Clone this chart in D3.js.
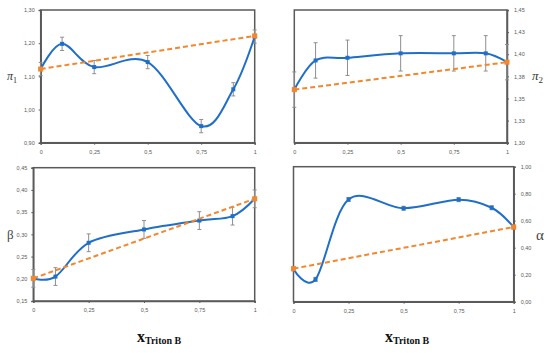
<!DOCTYPE html>
<html><head><meta charset="utf-8">
<script src="https://cdn.jsdelivr.net/npm/d3@7"></script>
<style>body{margin:0;background:#fff}svg{display:block}</style>
</head><body>
<svg id="c" width="550" height="353"></svg>
<script>
// ---- data ----
const xValues = [0, 0.1, 0.25, 0.5, 0.75, 0.9, 1];
const pi1Values = [1.122, 1.198, 1.128, 1.143, 0.950, 1.061, 1.220];
const pi1Err = [0.02, 0.02, 0.02, 0.02, 0.02, 0.02, 0.02];
const pi1Ideal = [1.122, 1.222];
const pi2Values = [1.360, 1.393, 1.396, 1.401, 1.401, 1.401, 1.391];
const pi2Err = [0.02, 0.02, 0.02, 0.02, 0.02, 0.02, 0.02];
const pi2Ideal = [1.360, 1.391];
const betaValues = [0.201, 0.205, 0.281, 0.311, 0.331, 0.341, 0.380];
const betaErr = [0.02, 0.02, 0.02, 0.02, 0.02, 0.02, 0.02];
const betaIdeal = [0.201, 0.380];
const alphaValues = [0.243, 0.165, 0.757, 0.692, 0.756, 0.696, 0.553];
const alphaErr = [0.015, 0.015, 0.015, 0.015, 0.015, 0.015, 0.015];
const alphaIdeal = [0.245, 0.553];
const idealX = [0, 1];
const xTicks = [0, 0.25, 0.5, 0.75, 1];
const xTickLabels = ["0", "0,25", "0,5", "0,75", "1"];
const pi1Ticks = [0.9, 1.0, 1.1, 1.2, 1.3];
const pi1TickLabels = ["0,90", "1,00", "1,10", "1,20", "1,30"];
const pi2Ticks = [1.30, 1.325, 1.35, 1.375, 1.40, 1.425, 1.45];
const pi2TickLabels = ["1,30", "1,33", "1,35", "1,38", "1,40", "1,43", "1,45"];
const betaTicks = [0.15, 0.20, 0.25, 0.30, 0.35, 0.40, 0.45];
const betaTickLabels = ["0,15", "0,20", "0,25", "0,30", "0,35", "0,40", "0,45"];
const alphaTicks = [0, 0.2, 0.4, 0.6, 0.8, 1.0];
const alphaTickLabels = ["0,00", "0,20", "0,40", "0,60", "0,80", "1,00"];

// ---- layout ----
const BLUE = "#1f6fc9", ORANGE = "#f4862c", FRAME = "#5a5a5a", TXT = "#595959";
const panels = [
  {vals: pi1Values, err: pi1Err, ideal: pi1Ideal, ticks: pi1Ticks, labels: pi1TickLabels,
   dom: [0.9, 1.3], L: 40.7, R: 254.7, T: 10, B: 142.7, side: "left", pad: 6},
  {vals: pi2Values, err: pi2Err, ideal: pi2Ideal, ticks: pi2Ticks, labels: pi2TickLabels,
   dom: [1.30, 1.45], L: 294.3, R: 507, T: 10, B: 142.7, side: "right", pad: 7},
  {vals: betaValues, err: betaErr, ideal: betaIdeal, ticks: betaTicks, labels: betaTickLabels,
   dom: [0.15, 0.45], L: 33.3, R: 254.7, T: 167.7, B: 301, side: "left", pad: 6},
  {vals: alphaValues, err: alphaErr, ideal: alphaIdeal, ticks: alphaTicks, labels: alphaTickLabels,
   dom: [0, 1], L: 293.5, R: 513.7, T: 166.7, B: 301.7, side: "right", pad: 7}
];

const svg = d3.select("#c");

panels.forEach(p => {
  const x = d3.scaleLinear().domain([0, 1]).range([p.L, p.R]);
  const y = d3.scaleLinear().domain(p.dom).range([p.B, p.T]);
  const g = svg.append("g");

  // frame
  g.append("rect").attr("x", p.L).attr("y", p.T).attr("width", p.R - p.L).attr("height", p.B - p.T)
    .attr("fill", "none").attr("stroke", FRAME).attr("stroke-width", 1.5);

  // x axis
  const xa = g.append("g").attr("transform", `translate(0,${p.B})`)
    .call(d3.axisBottom(x).tickValues(xTicks).tickSize(2)
      .tickFormat((d, i) => xTickLabels[i]).tickPadding(5));
  // y axis
  const ya = g.append("g").attr("transform", `translate(${p.side === "left" ? p.L : p.R},0)`)
    .call((p.side === "left" ? d3.axisLeft(y) : d3.axisRight(y)).tickValues(p.ticks).tickSize(2)
      .tickFormat((d, i) => p.labels[i]).tickPadding(p.pad - 2));
  [xa, ya].forEach(a => {
    a.select(".domain").attr("stroke", FRAME).attr("stroke-width", 1.5);
    a.selectAll(".tick line").attr("stroke", FRAME);
    a.selectAll(".tick text").attr("fill", TXT).style("font-family", "Liberation Sans, Arial, sans-serif")
      .style("font-size", "5.5px");
  });

  // error bars
  const eb = g.append("g").attr("stroke", "#8f8f8f").attr("stroke-width", 1);
  xValues.forEach((xv, i) => {
    const cx = x(xv), y1 = y(p.vals[i] - p.err[i]), y2 = y(p.vals[i] + p.err[i]);
    eb.append("line").attr("x1", cx).attr("x2", cx).attr("y1", y1).attr("y2", y2);
    eb.append("line").attr("x1", cx - 2).attr("x2", cx + 2).attr("y1", y1).attr("y2", y1);
    eb.append("line").attr("x1", cx - 2).attr("x2", cx + 2).attr("y1", y2).attr("y2", y2);
  });

  // smooth blue curve
  const line = d3.line().x((d, i) => x(xValues[i])).y(d => y(d)).curve(d3.curveCardinal.tension(0));
  g.append("path").datum(p.vals).attr("d", line).attr("fill", "none")
    .attr("stroke", BLUE).attr("stroke-width", 2);
  g.selectAll(".bm").data(p.vals).enter().append("rect").attr("class", "bm")
    .attr("x", (d, i) => x(xValues[i]) - 2).attr("y", d => y(d) - 2)
    .attr("width", 4).attr("height", 4).attr("fill", BLUE);

  // orange dashed ideal line
  const iline = d3.line().x((d, i) => x(idealX[i])).y(d => y(d));
  g.append("path").datum(p.ideal).attr("d", iline).attr("fill", "none")
    .attr("stroke", ORANGE).attr("stroke-width", 2).attr("stroke-dasharray", "5,3");
  g.selectAll(".om").data(p.ideal).enter().append("rect").attr("class", "om")
    .attr("x", (d, i) => x(idealX[i]) - 2.5).attr("y", d => y(d) - 2.5)
    .attr("width", 5).attr("height", 5).attr("fill", ORANGE);
});

// axis titles
const serif = "Liberation Serif, Times New Roman, serif";
const t1 = svg.append("text").attr("x", 7).attr("y", 80).attr("fill", "#333")
  .style("font-family", serif).style("font-style", "italic").style("font-size", "12px");
t1.append("tspan").text("π");
t1.append("tspan").attr("dy", 3).style("font-size", "8px").style("font-style", "normal").text("1");
const t2 = svg.append("text").attr("x", 532).attr("y", 80).attr("fill", "#333")
  .style("font-family", serif).style("font-style", "italic").style("font-size", "13px");
t2.append("tspan").text("π");
t2.append("tspan").attr("dy", 3).style("font-size", "9px").style("font-style", "normal").text("2");
svg.append("text").attr("x", 7).attr("y", 239).attr("fill", "#444")
  .style("font-family", serif).style("font-size", "13px").text("β");
svg.append("text").attr("x", 536).attr("y", 240).attr("fill", "#444")
  .style("font-family", serif).style("font-size", "15px").text("α");

// x-axis titles
[[137, 342], [385, 342]].forEach(([px, py]) => {
  const t = svg.append("text").attr("x", px).attr("y", py).attr("fill", "#111")
    .style("font-family", serif).style("font-weight", "bold").style("font-size", "16px");
  t.append("tspan").text("x");
  t.append("tspan").attr("dy", 2).style("font-size", "10px").text("Triton B");
});
</script>
</body></html>
